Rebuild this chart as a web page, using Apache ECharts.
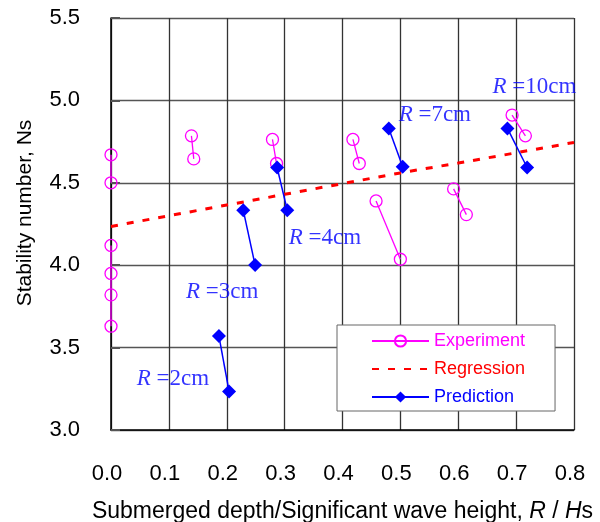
<!DOCTYPE html>
<html>
<head>
<meta charset="utf-8">
<script src="https://cdn.jsdelivr.net/npm/echarts@6/dist/echarts.min.js"></script>
<style>
  html, body { margin: 0; padding: 0; background: #fff; }
  #chart { width: 600px; height: 522px; }
</style>
</head>
<body>
<div id="chart"></div>
<script>
// Axis ticks
const xTicks = [0, 0.1, 0.2, 0.3, 0.4, 0.5, 0.6, 0.7, 0.8];
const yTicks = [3.0, 3.5, 4.0, 4.5, 5.0, 5.5];

// Measured stability numbers (each group is one connected set)
const experimentGroups = [
  [[0, 4.67], [0, 4.50]],
  [[0, 4.12], [0, 3.95], [0, 3.82], [0, 3.63]],
  [[0.139, 4.785], [0.143, 4.645]],
  [[0.279, 4.763], [0.286, 4.617]],
  [[0.418, 4.763], [0.429, 4.617]],
  [[0.458, 4.390], [0.500, 4.036]],
  [[0.592, 4.463], [0.614, 4.307]],
  [[0.693, 4.911], [0.716, 4.785]]
];

// Regression curve
const regressionX = [0, 0.1, 0.2, 0.3, 0.4, 0.5, 0.6, 0.7, 0.8];
const regressionY = [4.235, 4.300, 4.365, 4.430, 4.495, 4.560, 4.620, 4.682, 4.745];

// Predicted stability numbers, one pair per crest depth R
const predictionGroups = [
  [[0.1865, 3.570], [0.204, 3.234]],
  [[0.2285, 4.334], [0.249, 4.001]],
  [[0.287, 4.593], [0.3045, 4.334]],
  [[0.480, 4.830], [0.504, 4.597]],
  [[0.685, 4.830], [0.719, 4.593]]
];

// Crest-depth annotations
const annoText = ['2cm', '3cm', '4cm', '7cm', '10cm'];
const annoX = [0.0444, 0.1295, 0.307, 0.497, 0.659];
const annoY = [3.307, 3.837, 4.165, 4.911, 5.081];

const SANS = 'Liberation Sans';
const SERIF = 'Liberation Serif';
const MAGENTA = '#FF00FF';
const RED = '#FF0000';
const BLUE = '#0000FF';

const series = [];

series.push({
  name: 'Regression',
  type: 'line',
  z: 2,
  symbol: 'none',
  data: regressionX.map((x, i) => [x, regressionY[i]]),
  lineStyle: { color: RED, width: 3, type: [7, 9] },
  itemStyle: { color: RED },
  silent: true
});

experimentGroups.forEach(g => {
  series.push({
    name: 'Experiment',
    type: 'line',
    z: 3,
    symbol: 'circle',
    symbolSize: 12,
    data: g,
    lineStyle: { color: MAGENTA, width: 1.3 },
    itemStyle: { color: 'rgba(255,255,255,0)', borderColor: MAGENTA, borderWidth: 1.3 },
    silent: true
  });
});

predictionGroups.forEach(g => {
  series.push({
    name: 'Prediction',
    type: 'line',
    z: 4,
    symbol: 'diamond',
    symbolSize: 14,
    data: g,
    lineStyle: { color: BLUE, width: 1.5 },
    itemStyle: { color: BLUE },
    silent: true
  });
});

series.push({
  name: 'labels',
  type: 'scatter',
  z: 5,
  symbolSize: 0,
  silent: true,
  data: annoX.map((x, i) => ({ value: [x, annoY[i]], txt: annoText[i] })),
  label: {
    show: true,
    position: [0, 0],
    align: 'left',
    verticalAlign: 'middle',
    formatter: p => '{i|R} =' + p.data.txt,
    fontFamily: SERIF,
    fontSize: 23,
    color: BLUE,
    rich: {
      i: { fontFamily: SERIF, fontSize: 23, fontStyle: 'italic', color: BLUE }
    }
  }
});

const chart = echarts.init(document.getElementById('chart'), null, { renderer: 'canvas' });
chart.setOption({
  backgroundColor: '#fff',
  animation: false,
  grid: { left: 111, right: 26, top: 18, bottom: 92, containLabel: false, outerBoundsMode: 'none' },
  xAxis: {
    type: 'value',
    min: xTicks[0],
    max: xTicks[xTicks.length - 1],
    interval: 0.1,
    name: 'Submerged depth/Significant wave height, {i|R} / {i|H}s',
    nameLocation: 'middle',
    nameGap: 70,
    nameTextStyle: {
      fontFamily: SANS, fontSize: 23, color: '#000',
      rich: { i: { fontFamily: SANS, fontSize: 23, fontStyle: 'italic', color: '#000' } }
    },
    axisLine: { onZero: false, lineStyle: { color: '#000', width: 1.5 } },
    axisTick: { show: false },
    axisLabel: {
      margin: 33, fontFamily: SANS, fontSize: 22, color: '#000',
      padding: [0, 8, 0, 0],
      formatter: v => v.toFixed(1)
    },
    splitLine: { show: true, lineStyle: { color: '#333', width: 1.3 } }
  },
  yAxis: {
    type: 'value',
    min: yTicks[0],
    max: yTicks[yTicks.length - 1],
    interval: 0.5,
    name: 'Stability number, Ns',
    nameLocation: 'middle',
    nameGap: 75,
    nameTextStyle: { fontFamily: SANS, fontSize: 21, color: '#000', padding: [0, 0, 0, 22] },
    axisLine: { onZero: false, lineStyle: { color: '#000', width: 1.5 } },
    axisTick: { show: true, inside: true, length: 9, lineStyle: { color: '#555', width: 2 } },
    axisLabel: {
      margin: 31, fontFamily: SANS, fontSize: 22, color: '#000',
      padding: [8, 0, 0, 0],
      formatter: v => v.toFixed(1)
    },
    splitLine: { show: true, lineStyle: { color: '#555', width: 1.3 } }
  },
  legend: {
    orient: 'vertical',
    left: 337,
    top: 325,
    padding: [7, 30, 5, 34],
    itemWidth: 57,
    itemHeight: 14,
    itemGap: 10,
    backgroundColor: '#fff',
    borderColor: '#666',
    borderWidth: 1,
    selectedMode: false,
    textStyle: { fontFamily: SANS, fontSize: 18 },
    data: [
      { name: 'Experiment', textStyle: { color: MAGENTA } },
      { name: 'Regression', textStyle: { color: RED },
        itemStyle: { color: 'rgba(0,0,0,0)', borderWidth: 0, opacity: 0 } },
      { name: 'Prediction', textStyle: { color: BLUE } }
    ]
  },
  series: series
});
</script>
</body>
</html>
